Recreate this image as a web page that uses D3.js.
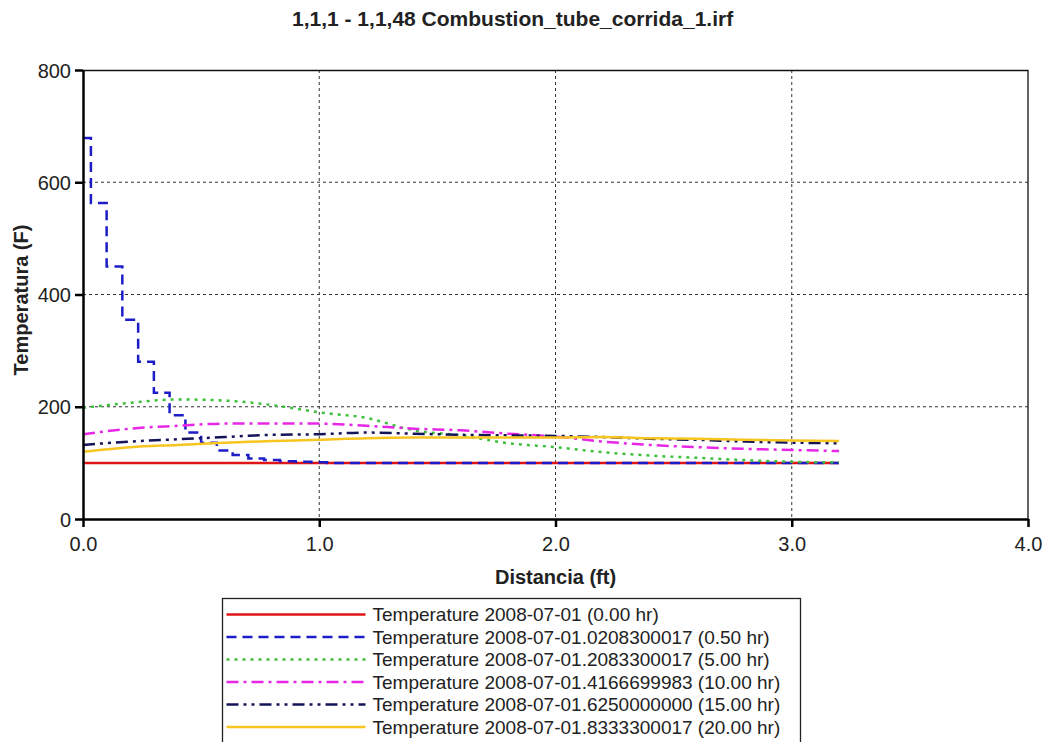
<!DOCTYPE html>
<html>
<head>
<meta charset="utf-8">
<script src="https://cdn.jsdelivr.net/npm/d3@7"></script>
<style>
  body { margin: 0; background: #fff; }
  text { font-family: "Liberation Sans", Arial, sans-serif; fill: #222; }
</style>
</head>
<body>
<div id="chart"></div>
<script>
// distance grid for the 0.5 hr profile (48 blocks, step output)
var distFine = [0, 0.067, 0.133, 0.2, 0.267, 0.333, 0.4, 0.467, 0.533, 0.6, 0.667, 0.733,
  0.8, 0.867, 0.933, 1.0, 1.067, 1.133, 1.2, 1.267, 1.333, 1.4, 1.467, 1.533, 1.6,
  1.667, 1.733, 1.8, 1.867, 1.933, 2.0, 2.067, 2.133, 2.2, 2.267, 2.333, 2.4, 2.467,
  2.533, 2.6, 2.667, 2.733, 2.8, 2.867, 2.933, 3.0, 3.067, 3.133, 3.2];
var temp050 = [679, 563, 450, 355, 280, 225, 185, 154, 136, 122, 114, 108,
  105, 103, 102, 101, 100, 100, 100, 100, 100, 100, 100, 100, 100,
  100, 100, 100, 100, 100, 100, 100, 100, 100, 100, 100, 100, 100,
  100, 100, 100, 100, 100, 100, 100, 100, 100, 100, 100];

// coarser distance grid for the smoother profiles
var distCoarse = [0, 0.2, 0.4, 0.6, 0.8, 1.0, 1.2, 1.4, 1.6, 1.8, 2.0, 2.2, 2.4, 2.6, 2.8, 3.0, 3.2];
var temp500 = [198, 207, 213, 211, 203, 190, 180, 158, 149, 135, 128, 119, 113, 109, 105, 102, 101];
var temp1000 = [151, 161, 166, 170, 170, 170, 166, 161, 158, 152, 147, 138, 132, 128, 125, 123, 121];
var temp1500 = [132, 138, 142, 146, 150, 151, 154, 152, 150, 149, 148, 146, 143, 141, 138, 136, 135];
var temp2000 = [120, 128, 132, 136, 139, 141, 144, 145, 145, 145, 145, 146, 144, 143, 141, 140, 139];

var distInit = [0, 3.2];
var temp000 = [100, 100];

var xTicks = [0, 1, 2, 3, 4];
var yTicks = [0, 200, 400, 600, 800];

var legendLabels = [
  "Temperature 2008-07-01 (0.00 hr)",
  "Temperature 2008-07-01.0208300017 (0.50 hr)",
  "Temperature 2008-07-01.2083300017 (5.00 hr)",
  "Temperature 2008-07-01.4166699983 (10.00 hr)",
  "Temperature 2008-07-01.6250000000 (15.00 hr)",
  "Temperature 2008-07-01.8333300017 (20.00 hr)"
];

var svgWidth = 1046;
var svgHeight = 742;
var margin = { top: 70, right: 18, left: 83, bottom: 223 };
var width = svgWidth - margin.left - margin.right;
var height = svgHeight - margin.top - margin.bottom;

var series = [
  { x: distInit, y: temp000, color: "#e01515", dash: null, curve: d3.curveLinear },
  { x: distFine, y: temp050, color: "#1c1cc8", dash: "10,6", curve: d3.curveStep },
  { x: distCoarse, y: temp500, color: "#3cc03c", dash: "3,5", curve: d3.curveMonotoneX },
  { x: distCoarse, y: temp1000, color: "#e628e6", dash: "12,5,3,5", curve: d3.curveMonotoneX },
  { x: distCoarse, y: temp1500, color: "#14145a", dash: "12,5,3,5,3,5", curve: d3.curveMonotoneX },
  { x: distCoarse, y: temp2000, color: "#f7c520", dash: null, curve: d3.curveMonotoneX }
];

var svg = d3.select("#chart")
  .append("svg")
  .attr("width", svgWidth)
  .attr("height", svgHeight);

svg.append("rect")
  .attr("width", svgWidth)
  .attr("height", svgHeight)
  .attr("fill", "#fff");

var chartGroup = svg.append("g")
  .attr("transform", `translate(${margin.left}, ${margin.top})`);

var x = d3.scaleLinear().domain([0, 4]).range([0, width]);
var y = d3.scaleLinear().domain([0, 800]).range([height, 0]);

// grid
chartGroup.append("g")
  .selectAll("line")
  .data(xTicks.slice(1, -1))
  .enter()
  .append("line")
  .attr("x1", d => x(d)).attr("x2", d => x(d))
  .attr("y1", 0).attr("y2", height)
  .attr("stroke", "#333")
  .attr("stroke-width", 1)
  .attr("stroke-dasharray", "3,3");

chartGroup.append("g")
  .selectAll("line")
  .data(yTicks.slice(1, -1))
  .enter()
  .append("line")
  .attr("x1", 0).attr("x2", width)
  .attr("y1", d => y(d)).attr("y2", d => y(d))
  .attr("stroke", "#333")
  .attr("stroke-width", 1)
  .attr("stroke-dasharray", "3,3");

// frame (top and right)
chartGroup.append("path")
  .attr("d", `M0,0.5H${width}V${height}`)
  .attr("fill", "none")
  .attr("stroke", "#111")
  .attr("stroke-width", 1.3);

// series
series.forEach(s => {
  var line = d3.line()
    .x((d, i) => x(s.x[i]))
    .y(d => y(d))
    .curve(s.curve);
  chartGroup.append("path")
    .datum(s.y)
    .attr("d", line)
    .attr("fill", "none")
    .attr("stroke", s.color)
    .attr("stroke-width", 2.5)
    .attr("stroke-dasharray", s.dash);
});

// axes
var xAxis = chartGroup.append("g")
  .attr("transform", `translate(0, ${height})`)
  .call(d3.axisBottom(x).tickValues(xTicks).tickFormat(d3.format(".1f")).tickSize(8).tickSizeOuter(0));
var yAxis = chartGroup.append("g")
  .call(d3.axisLeft(y).tickValues(yTicks).tickSize(8).tickSizeOuter(0));

[xAxis, yAxis].forEach(a => {
  a.select(".domain").attr("stroke", "#000").attr("stroke-width", 2.5);
  a.selectAll(".tick line").attr("stroke", "#000").attr("stroke-width", 2.5);
  a.selectAll(".tick text")
    .attr("font-family", "Liberation Sans, Arial, sans-serif")
    .attr("font-size", "20px")
    .attr("fill", "#222");
});
xAxis.selectAll(".tick text").attr("dy", "1.05em");
yAxis.selectAll(".tick text").attr("x", -12).attr("dy", "0.35em");

// titles
svg.append("text")
  .attr("x", 292)
  .attr("y", 26)
  .attr("font-size", "21px")
  .attr("font-weight", "bold")
  .text("1,1,1 - 1,1,48 Combustion_tube_corrida_1.irf");

svg.append("text")
  .attr("x", margin.left + width / 2)
  .attr("y", 584)
  .attr("text-anchor", "middle")
  .attr("font-size", "20px")
  .attr("font-weight", "bold")
  .text("Distancia (ft)");

svg.append("text")
  .attr("transform", "rotate(-90)")
  .attr("x", -300)
  .attr("y", 28)
  .attr("text-anchor", "middle")
  .attr("font-size", "20px")
  .attr("font-weight", "bold")
  .text("Temperatura (F)");

// legend
var legend = svg.append("g").attr("transform", "translate(222.5, 598.5)");
legend.append("rect")
  .attr("width", 578)
  .attr("height", 160)
  .attr("fill", "#fff")
  .attr("stroke", "#222")
  .attr("stroke-width", 1.3);

var rows = legend.selectAll(".row")
  .data(series)
  .enter()
  .append("g")
  .attr("class", "row")
  .attr("transform", (d, i) => `translate(0, ${16 + i * 22.5})`);

rows.append("line")
  .attr("x1", 4).attr("x2", 143)
  .attr("stroke", d => d.color)
  .attr("stroke-width", 2.5)
  .attr("stroke-dasharray", d => d.dash);

rows.append("text")
  .attr("x", 150)
  .attr("dy", "0.35em")
  .attr("font-size", "19px")
  .text((d, i) => legendLabels[i]);
</script>
</body>
</html>
